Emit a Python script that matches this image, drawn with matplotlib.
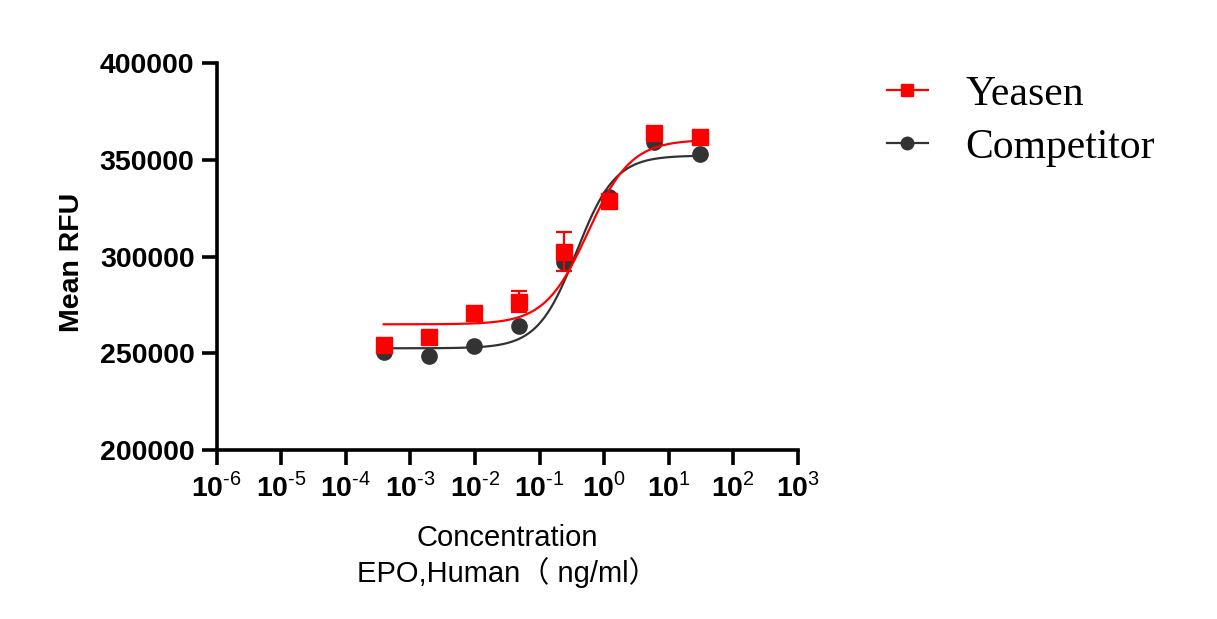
import numpy as np
import matplotlib
matplotlib.use("Agg")
import matplotlib.pyplot as plt
from matplotlib.lines import Line2D

plt.rcParams['font.family'] = ['Liberation Sans', 'Noto Sans CJK SC', 'DejaVu Sans']
plt.rcParams['mathtext.fontset'] = 'custom'
plt.rcParams['mathtext.rm'] = 'Liberation Sans'
plt.rcParams['mathtext.bf'] = 'Liberation Sans:bold'

# concentrations (ng/ml), 5-fold dilution
conc = [0.000384, 0.00192, 0.0096, 0.048, 0.24, 1.2, 6.0, 30.0]

# Yeasen
yeasen = [254300, 258600, 271000, 276700, 302600, 328900, 364100, 361700]
yeasen_sd = [0, 0, 0, 5300, 9900, 0, 0, 0]
# Competitor
competitor = [250500, 248600, 253900, 264100, 297400, 330700, 359100, 352900]

# 4PL fit parameters: bottom, top, logEC50, hill
yeasen_fit = (265000, 360500, -0.25, 1.3)
competitor_fit = (252600, 352300, -0.43, 1.45)

xticks = [1e-6, 1e-5, 1e-4, 1e-3, 1e-2, 1e-1, 1e0, 1e1, 1e2, 1e3]
xticklabels = [r'$\mathbf{10}^{\text{%d}}$' % p for p in range(-6, 4)]
yticks = [200000, 250000, 300000, 350000, 400000]

red = '#ff0000'
dark = '#333333'


def four_pl(x, bottom, top, logec50, hill):
    return bottom + (top - bottom) / (1 + 10 ** ((logec50 - np.log10(x)) * hill))


fig = plt.figure(figsize=(12.17, 6.19), dpi=100)
ax = fig.add_axes([216.7 / 1217, 1 - 450 / 619, (798 - 216.7) / 1217, (450 - 63.3) / 619])

xs = np.logspace(np.log10(conc[0]), np.log10(conc[-1]), 300)

# competitor first, yeasen on top
ax.plot(xs, four_pl(xs, *competitor_fit), color=dark, lw=1.6, zorder=2)
ax.plot(conc, competitor, 'o', color=dark, ms=11, zorder=3)

ax.plot(xs, four_pl(xs, *yeasen_fit), color=red, lw=1.6, zorder=4)
ax.errorbar(conc, yeasen, yerr=yeasen_sd, fmt='s', color=red, ms=11,
            ecolor=red, elinewidth=1.6, capsize=6, capthick=1.6, zorder=5)

ax.set_xscale('log')
ax.set_xlim(1e-6, 1e3)
ax.set_ylim(200000, 400000)
ax.set_xticks(xticks)
ax.set_xticklabels(xticklabels)
ax.minorticks_off()
ax.set_yticks(yticks)
ax.set_yticklabels([str(v) for v in yticks], fontweight='bold')

for s in ['top', 'right']:
    ax.spines[s].set_visible(False)
for s in ['left', 'bottom']:
    ax.spines[s].set_linewidth(2.6)
ax.tick_params(axis='both', direction='out', length=11, width=2.6, labelsize=20.5, pad=5)

ax.set_ylabel('Mean RFU', fontsize=20.5, fontweight='bold')
ax.yaxis.set_label_coords(-0.226, 0.484)
ax.set_xlabel('Concentration\nEPO,Human\uff08 ng/ml\uff09', fontsize=21, labelpad=16,
              linespacing=1.2)

handles = [
    Line2D([], [], color=red, marker='s', ms=9, lw=1.6),
    Line2D([], [], color=dark, marker='o', ms=9, lw=1.6),
]
fig.legend(handles, ['Yeasen', 'Competitor'], loc='upper left',
           bbox_to_anchor=(849 / 1217, 1 - 38 / 619), frameon=False,
           prop={'family': 'Liberation Serif', 'size': 30},
           handlelength=1.0, handletextpad=0.9, labelspacing=0.35)

fig.savefig('out.png', dpi=100)
